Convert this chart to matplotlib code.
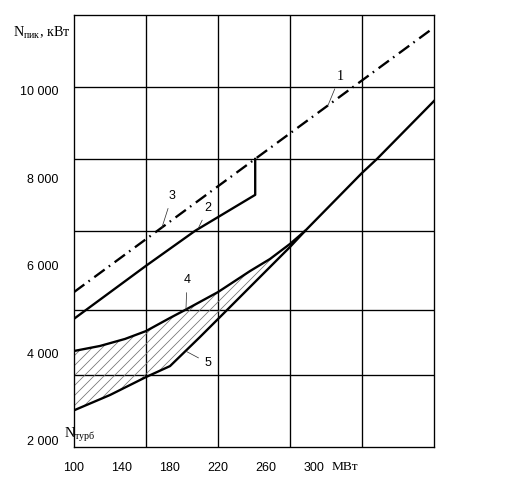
import matplotlib
matplotlib.use('Agg')
import matplotlib.pyplot as plt

plt.rcParams['mathtext.fontset'] = 'custom'
plt.rcParams['mathtext.rm'] = 'Liberation Serif'
plt.rcParams['hatch.linewidth'] = 0.9

# данные (МВт, кВт)
line1_x = [100, 398]
line1_y = [5400, 11400]

line2_x = [100, 160, 201, 251, 251]
line2_y = [4790, 6000, 6800, 7620, 8440]

line4_x = [100, 121.7, 142.5, 160, 180, 192.5, 220, 246.7, 263.3, 280, 292.5]
line4_y = [4055, 4170, 4330, 4510, 4810, 4990, 5400, 5880, 6155, 6500, 6795]

line5_x = [100, 130, 160, 180, 205, 227.5, 280, 292.5, 340, 352.5, 400.8]
line5_y = [2700, 3050, 3460, 3710, 4375, 4990, 6430, 6795, 8120, 8440, 9785]

grid_x = [160, 220, 280, 340]
grid_y = [3507, 4991, 6795, 8438, 10082]

xticks = [100, 140, 180, 220, 260, 300]
yticks = [2000, 4000, 6000, 8000, 10000]
ytick_labels = ['2 000', '4 000', '6 000', '8 000', '10 000']

# подписи кривых: (текст, точка на кривой, положение цифры)
labels = [
    ('1', (311.7, 9665), (321.7, 10333)),
    ('2', (203.3, 6840), (211.7, 7320)),
    ('3', (173.3, 6876), (181.7, 7594)),
    ('4', (193.3, 5003), (194.2, 5676)),
    ('5', (193.3, 4050), (211.7, 3781)),
]

DPI = 60
fig = plt.figure(figsize=(522 / DPI, 486 / DPI), dpi=DPI, facecolor='white')
ax = fig.add_axes([74 / 522, 39 / 486, 360 / 522, 432 / 486])
ax.set_xlim(100, 400)
ax.set_ylim(1863, 11726)

for gx in grid_x:
    ax.axvline(gx, color='black', lw=1.6, zorder=1)
for gy in grid_y:
    ax.axhline(gy, color='black', lw=1.6, zorder=1)
for s in ax.spines.values():
    s.set_linewidth(1.6)

# заштрихованная область между кривыми 4 и 5
k = line5_x.index(292.5)
poly_x = line4_x + line5_x[:k + 1][::-1]
poly_y = line4_y + line5_y[:k + 1][::-1]
ax.fill(poly_x, poly_y, facecolor='none', edgecolor='#707070', lw=0, hatch='//', zorder=2)

ax.plot(line1_x, line1_y, color='black', lw=2.8,
        ls=(0, (5.5, 2.2, 0.7, 2.4)), zorder=3)
ax.plot(line2_x, line2_y, color='black', lw=2.8, zorder=3)
ax.plot(line4_x, line4_y, color='black', lw=2.8, zorder=3)
ax.plot(line5_x, line5_y, color='black', lw=2.8, zorder=3)

for txt, xy, xyt in labels:
    fam = 'Liberation Serif' if txt == '1' else 'Liberation Sans'
    ax.annotate(txt, xy=xy, xytext=xyt, ha='center', va='center',
                fontsize=17 if txt == '1' else 15, family=fam,
                arrowprops=dict(arrowstyle='-', lw=0.9, color='#333333',
                                shrinkA=6, shrinkB=0))

ax.set_xticks(xticks)
ax.set_yticks(yticks, labels=ytick_labels)
ax.tick_params(length=0, labelsize=15)
ax.tick_params(axis='x', pad=18)
ax.tick_params(axis='y', pad=19)
for lab in ax.get_xticklabels() + ax.get_yticklabels():
    lab.set_family('Liberation Sans')

ax.text(326, 1407, 'МВт', ha='center', va='center', fontsize=16,
        family='Liberation Serif', clip_on=False)
ax.text(49, 11223, r'N$_{\mathrm{пик}}$, кВт', ha='left', va='baseline',
        fontsize=17, family='Liberation Serif', clip_on=False)
ax.text(91.7, 2069, r'N$_{\mathrm{турб}}$', ha='left', va='baseline',
        fontsize=17, family='Liberation Serif', clip_on=False, zorder=4)

fig.savefig('out.png', dpi=DPI, facecolor='white')
plt.close(fig)
